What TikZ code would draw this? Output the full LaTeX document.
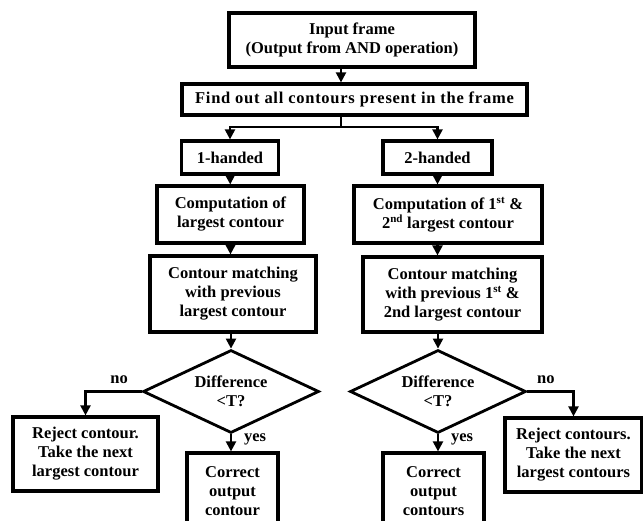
\documentclass[tikz,border=0pt]{standalone}
\usepackage{fontspec}
\setmainfont{Liberation Serif}
\usepackage{tikz}
\usetikzlibrary{arrows.meta, shapes.geometric, calc}

\begin{document}
\begin{tikzpicture}[
                                        x=1pt, y=-1pt,
                                        >={Triangle[length=10pt, width=10pt]},
                                        every node/.style={font=\fontsize{16.5}{19}\selectfont\bfseries, align=center, inner sep=0pt},
                                        box/.style={draw, line width=3.2pt, fill=white},
                                        decision/.style={diamond, draw, line width=2.8pt, minimum width=176pt, minimum height=83pt, aspect=2},
                                        conn/.style={->, line width=2.2pt},
                                ]
                                \useasboundingbox (0,0) rectangle (643,521);
                                % top of the chart
                                \node[box, minimum width=246pt, minimum height=54pt] (input) at (352,40) {Input frame\\(Output from AND operation)};
                                \node[box, minimum width=345pt, minimum height=31pt] (find) at (354.5,99.5) {\addfontfeature{LetterSpace=4.5}Find out all contours present in the frame};
                                \coordinate (trunk) at (341,127);
                                % two branches
                                \node[box, minimum width=97pt, minimum height=33pt] (hand1) at (230,157.5) {1-handed};
                                \node[box, minimum width=109pt, minimum height=33pt] (hand2) at (437.5,157.5) {2-handed};
                                \node[box, minimum width=147pt, minimum height=57pt] (comp1) at (230.5,214.5) {Computation of\\largest contour};
                                \node[box, minimum width=188pt, minimum height=57pt] (comp2) at (448,214.5) {Computation of 1\textsuperscript{\fontsize{11}{11}\selectfont st} \&\\2\textsuperscript{\fontsize{11}{11}\selectfont nd} largest contour};
                                \node[box, minimum width=166pt, minimum height=76pt] (match1) at (233,294) {Contour matching\\with previous\\largest contour};
                                \node[box, minimum width=179pt, minimum height=75pt] (match2) at (452.5,294.5) {Contour matching\\with previous 1\textsuperscript{\fontsize{11}{11}\selectfont st} \&\\2nd largest contour};
                                \node[decision] (diff1) at (231,391.5) {Difference\\<T?};
                                \node[decision] (diff2) at (438,391.5) {Difference\\<T?};
                                \node[box, minimum width=145pt, minimum height=74pt] (reject1) at (85.5,454) {Reject contour.\\Take the next\\largest contour};
                                \node[box, minimum width=137pt, minimum height=74pt] (reject2) at (573.5,455) {Reject contours.\\Take the next\\largest contours};
                                \node[box, minimum width=91pt, minimum height=77pt] (correct1) at (232.5,491.5) {Correct\\output\\contour};
                                \node[box, minimum width=101pt, minimum height=77pt] (correct2) at (433.5,491.5) {Correct\\output\\contours};
                                % connectors
                                \draw[conn] (trunk |- input.south) -- (trunk |- find.north);
                                \draw[conn] (trunk |- find.south) -- (trunk) -| (hand1.north);
                                \draw[conn] (trunk) -| (hand2.north);
                                \draw[conn] (hand1) -- (comp1);
                                \draw[conn] (hand2.south) -- (hand2.south |- comp2.north);
                                \draw[conn] (comp1.south) -- (comp1.south |- match1.north);
                                \draw[conn] (hand2.south |- comp2.south) -- (hand2.south |- match2.north);
                                \draw[conn] (match1.south -| diff1.north) -- (diff1.north);
                                \draw[conn] (match2.south -| diff2.north) -- (diff2.north);
                                \draw[conn] (diff1.west) -| node[pos=0.2, above=7pt] {no} (reject1.north);
                                \draw[conn] (diff2.east) -| node[pos=0.2, above=7pt] {no} (reject2.north);
                                \draw[conn] (diff1.south) -- node[pos=0.3, right=12pt] {yes} (diff1.south |- correct1.north);
                                \draw[conn] (diff2.south) -- node[pos=0.3, right=12pt] {yes} (diff2.south |- correct2.north);
                        \end{tikzpicture}
\end{document}
